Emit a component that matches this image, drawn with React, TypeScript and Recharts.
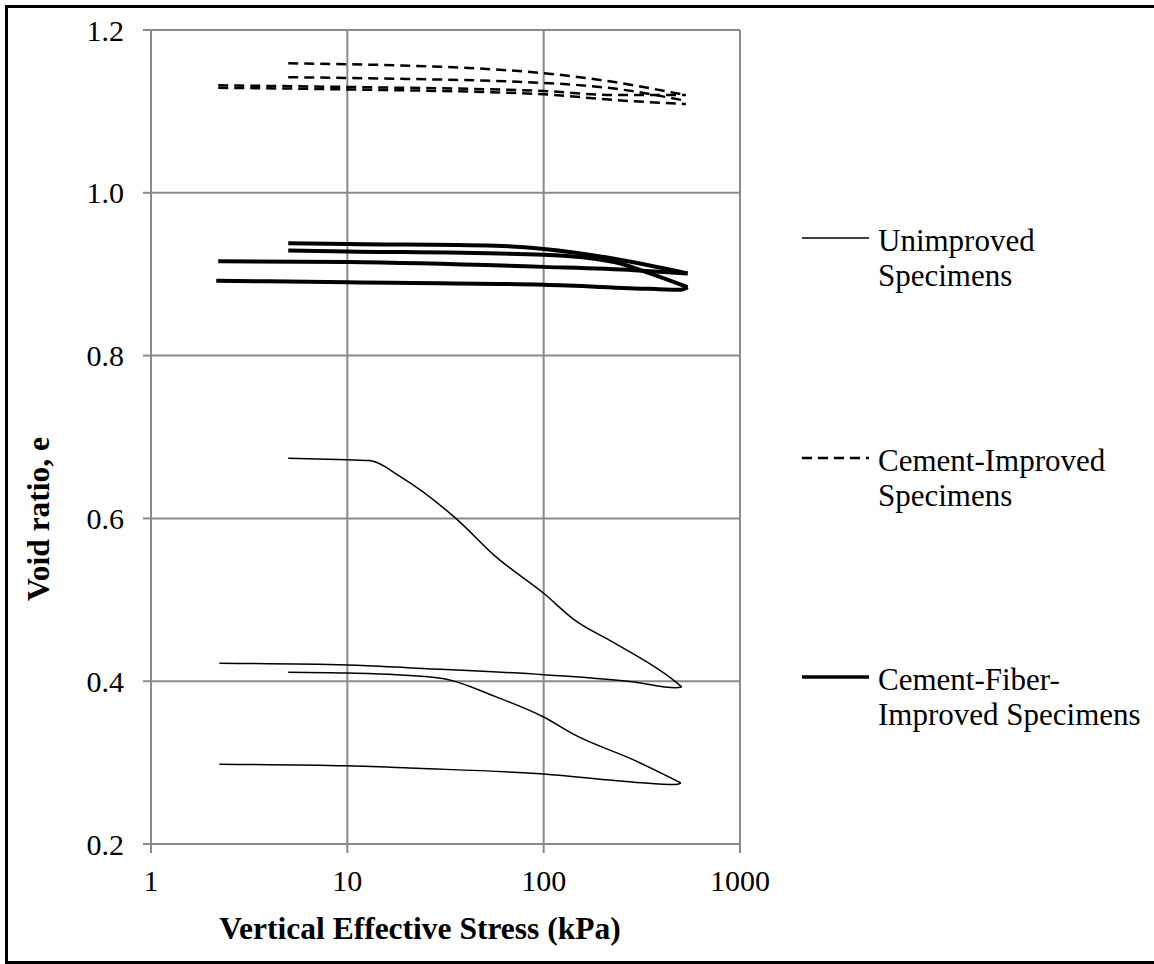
import { LineChart, Line, XAxis, YAxis, CartesianGrid } from "recharts";

// Unimproved specimens (loading / unloading branches)
const u1LoadStress = [5, 10, 13, 18.7, 35.7, 57, 100, 144, 229, 460, 505];
const u1LoadVoid = [0.674, 0.672, 0.671, 0.651, 0.6, 0.553, 0.508, 0.475, 0.447, 0.401, 0.393];
const u1UnloadStress = [2.23, 10, 22.5, 100, 289, 470, 505];
const u1UnloadVoid = [0.422, 0.42, 0.416, 0.408, 0.399, 0.392, 0.393];

const u2LoadStress = [5, 10, 17.8, 31.1, 56.9, 100, 144, 289, 500];
const u2LoadVoid = [0.411, 0.41, 0.408, 0.403, 0.381, 0.356, 0.334, 0.303, 0.275];
const u2UnloadStress = [2.23, 10, 22.5, 100, 289, 470, 500];
const u2UnloadVoid = [0.298, 0.296, 0.293, 0.286, 0.276, 0.273, 0.275];

// Cement-improved specimens
const c1LoadStress = [5, 10, 100, 229, 530];
const c1LoadVoid = [1.159, 1.158, 1.147, 1.136, 1.12];
const c1UnloadStress = [2.2, 10, 100, 229, 530];
const c1UnloadVoid = [1.132, 1.13, 1.125, 1.12, 1.12];

const c2LoadStress = [5, 10, 100, 229, 530];
const c2LoadVoid = [1.142, 1.141, 1.135, 1.128, 1.113];
const c2UnloadStress = [2.2, 10, 100, 229, 530];
const c2UnloadVoid = [1.129, 1.127, 1.121, 1.114, 1.109];

// Cement-fiber-improved specimens
const f1LoadStress = [5, 10, 56.9, 100, 229, 541];
const f1LoadVoid = [0.938, 0.937, 0.935, 0.931, 0.919, 0.901];
const f1UnloadStress = [2.2, 10, 100, 289, 541];
const f1UnloadVoid = [0.916, 0.915, 0.909, 0.905, 0.901];

const f2LoadStress = [5, 10, 100, 229, 348, 541];
const f2LoadVoid = [0.929, 0.928, 0.924, 0.915, 0.901, 0.884];
const f2UnloadStress = [2.15, 10, 100, 348, 500, 541];
const f2UnloadVoid = [0.892, 0.89, 0.887, 0.882, 0.881, 0.884];

const xTicks = [1, 10, 100, 1000];
const yTicks = [0.2, 0.4, 0.6, 0.8, 1.0, 1.2];

const legendLabels = [
  ["Unimproved", "Specimens"],
  ["Cement-Improved", "Specimens"],
  ["Cement-Fiber-", "Improved Specimens"],
];

const toPoints = (stress: number[], voids: number[]) =>
  stress.map((s, i) => ({ stress: s, e: voids[i] }));

const styles: Record<string, { strokeWidth: number; dash?: string }> = {
  unimproved: { strokeWidth: 1.5 },
  cement: { strokeWidth: 2.5, dash: "10 6" },
  fiber: { strokeWidth: 4 },
};

const series = [
  { key: "u1l", kind: "unimproved", data: toPoints(u1LoadStress, u1LoadVoid) },
  { key: "u1u", kind: "unimproved", data: toPoints(u1UnloadStress, u1UnloadVoid) },
  { key: "u2l", kind: "unimproved", data: toPoints(u2LoadStress, u2LoadVoid) },
  { key: "u2u", kind: "unimproved", data: toPoints(u2UnloadStress, u2UnloadVoid) },
  { key: "c1l", kind: "cement", data: toPoints(c1LoadStress, c1LoadVoid) },
  { key: "c1u", kind: "cement", data: toPoints(c1UnloadStress, c1UnloadVoid) },
  { key: "c2l", kind: "cement", data: toPoints(c2LoadStress, c2LoadVoid) },
  { key: "c2u", kind: "cement", data: toPoints(c2UnloadStress, c2UnloadVoid) },
  { key: "f1l", kind: "fiber", data: toPoints(f1LoadStress, f1LoadVoid) },
  { key: "f1u", kind: "fiber", data: toPoints(f1UnloadStress, f1UnloadVoid) },
  { key: "f2l", kind: "fiber", data: toPoints(f2LoadStress, f2LoadVoid) },
  { key: "f2u", kind: "fiber", data: toPoints(f2UnloadStress, f2UnloadVoid) },
];

const FONT = '"Liberation Serif", "Times New Roman", serif';
const GRID = "#8a8a8a";

const legendKinds = ["unimproved", "cement", "fiber"];
const legendY = [238, 458, 677];

export default function App() {
  return (
    <div style={{ position: "absolute", left: 0, top: 0, width: 1154, height: 964, background: "#fff", overflow: "hidden", fontFamily: FONT }}>
      <div
        style={{
          position: "absolute",
          left: 5,
          top: 5,
          width: 1160,
          height: 959,
          boxSizing: "border-box",
          border: "3px solid #000",
        }}
      />
      <LineChart width={1154} height={964} margin={{ top: 30, right: 414, bottom: 0, left: 0 }} style={{ position: "absolute", left: 0, top: 0 }}>
        <CartesianGrid stroke={GRID} strokeWidth={2} />
        <XAxis
          dataKey="stress"
          type="number"
          scale="log"
          domain={[1, 1000]}
          ticks={xTicks}
          allowDataOverflow
          height={120}
          stroke={GRID}
          strokeWidth={2}
          tickSize={9}
          tickMargin={17}
          tick={{ fill: "#000", fontSize: 30, fontFamily: FONT }}
          tickLine={{ stroke: GRID, strokeWidth: 2 }}
          label={{
            content: () => (
              <text x={420} y={928} textAnchor="middle" dominantBaseline="central" fontFamily={FONT} fontWeight="bold" fontSize={31.5} fill="#000">
                Vertical Effective Stress (kPa)
              </text>
            ),
          }}
        />
        <YAxis
          dataKey="e"
          type="number"
          domain={[0.2, 1.2]}
          ticks={yTicks}
          width={151}
          stroke={GRID}
          strokeWidth={2}
          tickSize={8}
          tickMargin={19}
          tickFormatter={(v: number) => v.toFixed(1)}
          tick={{ fill: "#000", fontSize: 30, fontFamily: FONT }}
          tickLine={{ stroke: GRID, strokeWidth: 2 }}
          label={{
            content: () => (
              <text x={38} y={519} transform="rotate(-90 38 519)" textAnchor="middle" dominantBaseline="central" fontFamily={FONT} fontWeight="bold" fontSize={31.5} fill="#000">
                Void ratio, e
              </text>
            ),
          }}
        />
        {series.map((s) => (
          <Line
            key={s.key}
            data={s.data}
            dataKey="e"
            type="monotone"
            stroke="#000"
            strokeWidth={styles[s.kind].strokeWidth}
            strokeDasharray={styles[s.kind].dash}
            dot={false}
            activeDot={false}
            isAnimationActive={false}
          />
        ))}
      </LineChart>
      {legendKinds.map((k, i) => (
        <div key={k}>
          <svg style={{ position: "absolute", left: 802, top: legendY[i] - 10 }} width={68} height={20}>
            <line x1={0} x2={67} y1={10} y2={10} stroke="#000" strokeWidth={k === "fiber" ? 3.5 : styles[k].strokeWidth} strokeDasharray={styles[k].dash} />
          </svg>
          <div style={{ position: "absolute", left: 878, top: legendY[i] - 15, fontSize: 31, lineHeight: "35px", color: "#000", whiteSpace: "nowrap" }}>
            {legendLabels[i].map((t) => (
              <div key={t}>{t}</div>
            ))}
          </div>
        </div>
      ))}
    </div>
  );
}
